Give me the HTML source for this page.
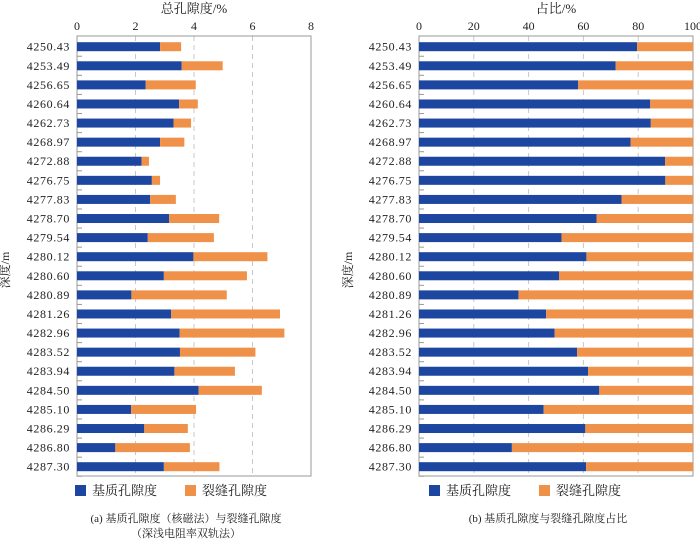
<!DOCTYPE html>
<html><head><meta charset="utf-8"><style>
body{margin:0;background:#fff;}
svg{display:block;font-family:"Liberation Serif","Noto Serif CJK SC",serif;}
</style></head><body>
<svg id="chart" width="700" height="541" viewBox="0 0 700 541"></svg>
<script>
const depths=["4250.43","4253.49","4256.65","4260.64","4262.73","4268.97","4272.88","4276.75","4277.83","4278.70","4279.54","4280.12","4280.60","4280.89","4281.26","4282.96","4283.52","4283.94","4284.50","4285.10","4286.29","4286.80","4287.30"];
const matrixPorosity=[2.84,3.58,2.35,3.49,3.30,2.84,2.21,2.56,2.50,3.15,2.42,3.98,2.97,1.86,3.22,3.51,3.52,3.33,4.16,1.85,2.30,1.31,2.97];
const fracturePorosity=[0.72,1.40,1.71,0.64,0.60,0.83,0.25,0.28,0.88,1.71,2.26,2.53,2.84,3.26,3.72,3.58,2.58,2.07,2.16,2.22,1.49,2.55,1.90];
const matrixShare=[79.6,71.8,58.1,84.4,84.6,77.2,89.8,89.9,73.9,64.8,52.0,61.1,51.1,36.3,46.4,49.5,57.7,61.7,65.8,45.5,60.7,33.9,61.0];
const ticksA=[0,2,4,6,8];
const ticksB=[0,20,40,60,80,100];
const BLUE="#1c46a0",ORANGE="#f0914a";
const svgEl=document.getElementById('chart');
const NS="http://www.w3.org/2000/svg";
function mk(tag,attrs,parent){const e=document.createElementNS(NS,tag);for(const k in attrs)e.setAttribute(k,attrs[k]);(parent||svgEl).appendChild(e);return e;}
const plotTop=36,plotBottom=476,rowStep=(466.7-46.7)/22,row0=46.7,barH=9;
const yPos=i=>row0+i*rowStep;
function panel(x0,x1,ticks,maxV,seriesBlue,seriesOrange,isShare,titleText,prefix,labelRight,legendX,caption1,caption2,yTitleX){
  const xs=v=>x0+(v/maxV)*(x1-x0);
  const g=mk('g',{});
  
  
  let t=mk('text',{x:(x0+x1)/2,y:13,'text-anchor':'middle','font-size':13,fill:'#222'},g);t.textContent=titleText;
  
  
  ticks.forEach(v=>{
    const tl=mk('text',{x:xs(v),y:30,'text-anchor':'middle','font-size':12,fill:'#222'},g);tl.textContent=v;
    
    
    if(v>0&&v<maxV){const gl=mk('line',{x1:xs(v),x2:xs(v),y1:plotTop,y2:plotBottom,stroke:'#c8c8c8','stroke-dasharray':'5,4'},g);
      
      }
  });
  const fr=mk('rect',{x:x0,y:plotTop,width:x1-x0,height:plotBottom-plotTop,fill:'none',stroke:'#999'},g);
  
  
  depths.forEach((d,i)=>{
    const y=yPos(i);
    const lb=mk('text',{x:labelRight,y:y+4,'text-anchor':'end','font-size':12,'letter-spacing':'0.6',fill:'#222'},g);lb.textContent=d;
    
    
    const tk=mk('line',{x1:x0,x2:x0+5,y1:y+rowStep/2,y2:y+rowStep/2,stroke:'#999'},g);
    
    
    const b=seriesBlue[i];
    const o=isShare?100-b:seriesOrange[i];
    const rb=mk('rect',{x:xs(0),y:y-barH/2,width:xs(b)-xs(0),height:barH,fill:BLUE},g);
    
    
    const ro=mk('rect',{x:xs(b),y:y-barH/2,width:xs(b+o)-xs(b),height:barH,fill:ORANGE},g);
    
    
  });
  const yt=mk('text',{x:yTitleX,y:270,'text-anchor':'middle','font-size':12,fill:'#222',transform:`rotate(-90 ${yTitleX} 270)`},g);yt.textContent='深度/m';
  
  
  const l1=mk('rect',{x:legendX,y:485,width:11,height:11,fill:BLUE},g);
  
  
  const lt1=mk('text',{x:legendX+17,y:495,'font-size':13,fill:'#222'},g);lt1.textContent='基质孔隙度';
  
  
  const l2=mk('rect',{x:legendX+110,y:485,width:11,height:11,fill:ORANGE},g);
  
  
  const lt2=mk('text',{x:legendX+127,y:495,'font-size':13,fill:'#222'},g);lt2.textContent='裂缝孔隙度';
  
  
  const c1=mk('text',{x:(x0+x1)/2-8,y:522,'text-anchor':'middle','font-size':11,fill:'#222'},g);c1.textContent=caption1;
  
  
  if(caption2){const c2=mk('text',{x:(x0+x1)/2-8,y:537,'text-anchor':'middle','font-size':11,fill:'#222'},g);c2.textContent=caption2;
    
    }
}
panel(77,311,ticksA,8,matrixPorosity,fracturePorosity,false,'总孔隙度/%','porosity',70,75,'(a) 基质孔隙度（核磁法）与裂缝孔隙度','（深浅电阻率双轨法）',9);
panel(419,693,ticksB,100,matrixShare,null,true,'占比/%','share',412,429,'(b) 基质孔隙度与裂缝孔隙度占比',null,352);
</script>
</body></html>
